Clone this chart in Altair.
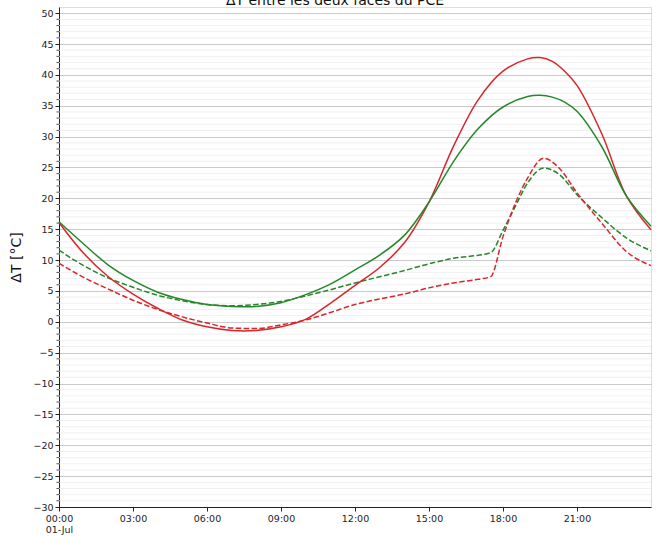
import altair as alt
import pandas as pd

# ---- data (hours of 01-Jul, ΔT in °C) ----
hours_solid = [0, 1, 2, 3, 4, 5, 6, 7, 8, 9, 10, 11, 12, 13, 14, 15, 16, 17, 18,
               19, 19.5, 20, 20.5, 21, 22, 23, 24]
red_solid = [16.1, 11.1, 7.3, 4.5, 2.2, 0.3, -0.8, -1.4, -1.4, -0.8, 0.4, 3.0, 5.9,
             8.8, 12.8, 19.4, 28.5, 36.0, 40.6, 42.6, 42.8, 42.2, 40.6, 38.3, 30.5,
             20.4, 14.9]
green_solid = [16.2, 12.6, 9.2, 6.7, 4.8, 3.6, 2.8, 2.5, 2.5, 3.1, 4.4, 6.1, 8.4,
               10.8, 14.0, 19.4, 26.0, 31.3, 34.8, 36.5, 36.7, 36.4, 35.6, 34.1,
               28.4, 20.4, 15.5]

hours_dashed = [0, 1, 2, 3, 4, 5, 6, 7, 8, 9, 10, 11, 12, 13, 14, 15, 16, 17, 17.5,
                18, 18.5, 19, 19.65, 20.3, 21, 22, 23, 24]
green_dashed = [11.6, 9.1, 7.1, 5.6, 4.3, 3.4, 2.8, 2.6, 2.8, 3.3, 4.2, 5.2, 6.3,
                7.3, 8.3, 9.4, 10.3, 10.8, 11.2, 14.8, 18.7, 22.5, 24.9, 23.8, 20.6,
                16.9, 13.6, 11.5]
red_dashed = [9.5, 7.2, 5.3, 3.5, 2.0, 0.8, -0.2, -1.0, -1.1, -0.5, 0.3, 1.5, 2.8,
              3.7, 4.5, 5.5, 6.3, 6.9, 7.3, 13.8, 19.2, 23.3, 26.5, 24.8, 20.9,
              16.0, 11.4, 9.1]

x_ticks = [0, 3, 6, 9, 12, 15, 18, 21]
y_major = list(range(-30, 51, 5))
y_minor = [v for v in range(-30, 51) if v % 5 != 0]

title_text = ["ΔT entre les deux faces du PCE"]
y_title = "ΔT [°C]"

# ---- tables ----
def series_table(items):
    rows = []
    for name, hrs, vals in items:
        for h, v in zip(hrs, vals):
            rows.append({"serie": name, "heure": h, "dT": v})
    return pd.DataFrame(rows)

solid_df = series_table([
    ("rouge", hours_solid, red_solid),
    ("vert", hours_solid, green_solid),
])
dashed_df = series_table([
    ("vert", hours_dashed, green_dashed),
    ("rouge", hours_dashed, red_dashed),
])
minor_df = pd.DataFrame({"y": y_minor})
title_df = pd.DataFrame({"t": title_text})

FONT = "DejaVu Sans"
INK = "#222222"
xscale = alt.Scale(domain=[0, 24], nice=False, zero=False)
yscale = alt.Scale(domain=[-30, 51], nice=False, zero=False)

y_axis = alt.Axis(
    values=y_major,
    format="d",
    title=y_title,
    grid=True,
    gridColor="#bdbdbd",
    gridWidth=0.8,
    tickSize=4,
    labelPadding=2,
    labelFont=FONT,
    labelFontSize=9.5,
    labelColor=INK,
    tickColor=INK,
    domainColor=INK,
    titleFont=FONT,
    titleFontSize=14,
    titleFontWeight="normal",
    titleColor="#111111",
    titlePadding=9,
)

label_expr = (
    "datum.value == 0 ? ['00:00', '01-Jul'] : "
    "(datum.value < 10 ? '0' : '') + datum.value + ':00'"
)
x_axis = alt.Axis(
    values=x_ticks,
    labelExpr=label_expr,
    title=None,
    grid=False,
    labelFlush=False,
    tickSize=4,
    labelPadding=2,
    labelFont=FONT,
    labelFontSize=9.5,
    labelColor=INK,
    tickColor=INK,
    domainColor=INK,
)

color_scale = alt.Scale(domain=["rouge", "vert"], range=["#d8262b", "#24882a"])

minor_grid = alt.Chart(minor_df).mark_rule(color="#ececec", strokeWidth=0.8).encode(
    y=alt.Y("y:Q", scale=yscale, axis=y_axis),
    x=alt.value(0),
    x2=alt.value(592),
)
minor_ticks = alt.Chart(minor_df).mark_rule(color=INK, strokeWidth=0.8).encode(
    y=alt.Y("y:Q", scale=yscale, axis=y_axis),
    x=alt.value(0),
    x2=alt.value(-2.5),
)

solid = alt.Chart(solid_df).mark_line(strokeWidth=1.5, interpolate="catmull-rom").encode(
    x=alt.X("heure:Q", scale=xscale, axis=x_axis),
    y=alt.Y("dT:Q", scale=yscale, axis=y_axis),
    color=alt.Color("serie:N", scale=color_scale, legend=None),
)
dashed = alt.Chart(dashed_df).mark_line(
    strokeWidth=1.5, interpolate="monotone", strokeDash=[5.5, 2.4]
).encode(
    x=alt.X("heure:Q", scale=xscale, axis=x_axis),
    y=alt.Y("dT:Q", scale=yscale, axis=y_axis),
    color=alt.Color("serie:N", scale=color_scale, legend=None),
)

# chart title, partly cut by the top edge as in the reference
title_mark = alt.Chart(title_df).mark_text(
    font=FONT, fontSize=14, color="#111111", align="center", baseline="alphabetic"
).encode(
    text="t:N",
    x=alt.value(276),
    y=alt.value(-2),
)

chart = (
    alt.layer(minor_grid, minor_ticks, dashed, solid, title_mark)
    .properties(
        width=592,
        height=500,
        autosize=alt.AutoSizeParams(type="none"),
        padding={"left": 59, "top": 7, "right": 6, "bottom": 29},
    )
    .configure_view(stroke=INK, strokeWidth=1)
    .configure(background="white")
)

chart.save("out.html", embed_options={"renderer": "svg", "actions": False})
